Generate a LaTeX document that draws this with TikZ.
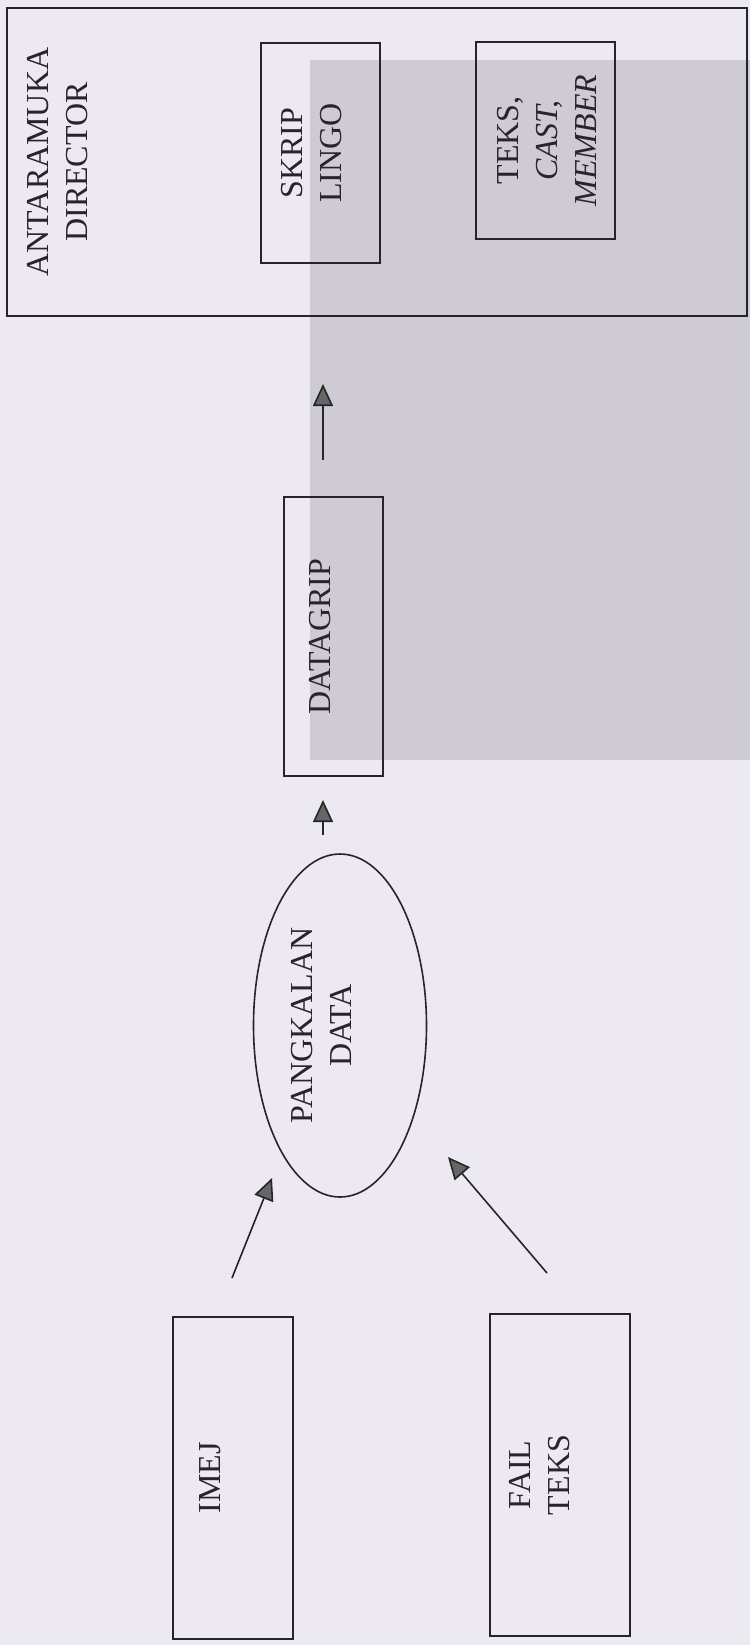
\documentclass[tikz,border=0pt]{standalone}
\usepackage{fontspec}
\setmainfont{Liberation Serif}
\usepackage{tikz}
\usetikzlibrary{arrows.meta,shapes.geometric}
\definecolor{paper}{RGB}{236,233,242}
\definecolor{showthrough}{RGB}{206,203,212}
\definecolor{ink}{RGB}{40,36,44}

\begin{document}
\begin{tikzpicture}[x=0.5pt,y=-0.5pt,
  every node/.style={font=\fontsize{16}{19.5}\selectfont, text=ink},
  box/.style={draw=ink, line width=0.9pt, rotate=90, inner sep=0pt, align=center},
  oval/.style={draw=ink, line width=0.8pt, ellipse, rotate=90, inner sep=0pt, align=center},
  flow/.style={draw=ink, line width=0.8pt, -{Triangle[length=11pt,width=10pt,fill=black!60]}}]
  \useasboundingbox (0,0) rectangle (750,1645);
  \fill[paper] (0,0) rectangle (750,1645);
  \fill[showthrough] (310,60) rectangle (750,760);

  \node[box, minimum width=154pt, minimum height=370pt, text height=40pt, text depth=330pt] (antaramuka) at (377,162) {ANTARAMUKA\\DIRECTOR};
  \node[box, minimum width=110pt, minimum height=59.5pt, text height=40pt, text depth=19.5pt] (skrip) at (320.5,153) {SKRIP\\LINGO};
  \node[box, minimum width=98.5pt, minimum height=69.5pt, text height=60pt, text depth=9.5pt] (teks) at (545.5,140.5) {TEKS,\\\textit{CAST,}\\\textit{MEMBER}};
  \node[box, minimum width=139.5pt, minimum height=49.5pt, text height=23pt, text depth=26.5pt] (datagrip) at (333.5,636.5) {DATAGRIP};
  \node[oval, minimum width=171.5pt, minimum height=86.5pt, text height=31.5pt, text depth=20.5pt] (pangkalan) at (340,1025.5) {PANGKALAN\\DATA};
  \node[box, minimum width=161pt, minimum height=60pt, text height=23.5pt, text depth=36.5pt] (imej) at (233,1478) {IMEJ};
  \node[box, minimum width=161pt, minimum height=70pt, text height=39.5pt, text depth=30.5pt] (failteks) at (560,1475) {FAIL\\TEKS};

  \coordinate (imej-out) at (232,1278);
  \coordinate (imej-in) at (272,1178);
  \coordinate (fail-out) at (547,1273);
  \coordinate (fail-in) at (448,1157);
  \coordinate (data-out) at (323,835);
  \coordinate (grip-in) at (323,800);
  \coordinate (grip-out) at (323,460);
  \coordinate (director-in) at (323,384);

  \draw[flow] (imej-out) -- (imej-in);
  \draw[flow] (fail-out) -- (fail-in);
  \draw[flow] (data-out) -- (grip-in);
  \draw[flow] (grip-out) -- (director-in);
\end{tikzpicture}
\end{document}
